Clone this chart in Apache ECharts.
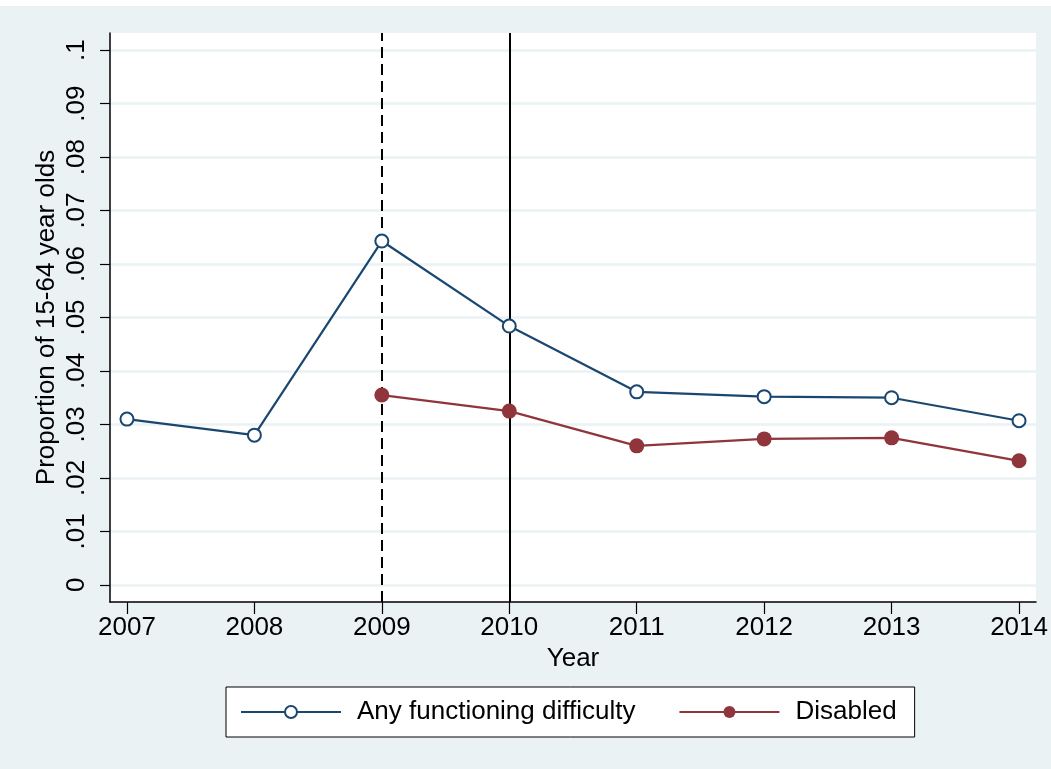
<!DOCTYPE html>
<html>
<head>
<meta charset="utf-8">
<script src="https://cdn.jsdelivr.net/npm/echarts@6/dist/echarts.min.js"></script>
<style>
html,body{margin:0;padding:0;background:#ffffff;}
#chart{position:absolute;left:0;top:6px;width:1051px;height:763px;background:#EAF2F3;}
</style>
</head>
<body>
<div id="chart"></div>
<script>
const years = [2007, 2008, 2009, 2010, 2011, 2012, 2013, 2014];
const anyDifficulty = [0.0310, 0.0280, 0.0643, 0.0484, 0.0361, 0.0352, 0.0350, 0.0307];
const disabled = [null, null, 0.0355, 0.0325, 0.0260, 0.0273, 0.0275, 0.0232];
const yTicks = [0, 0.01, 0.02, 0.03, 0.04, 0.05, 0.06, 0.07, 0.08, 0.09, 0.1];
const yTickLabels = ['0', '.01', '.02', '.03', '.04', '.05', '.06', '.07', '.08', '.09', '.1'];
const markYears = [2009, 2010];
const seriesNames = ['Any functioning difficulty', 'Disabled'];

const chart = echarts.init(document.getElementById('chart'));
const font = 'Liberation Sans, Arial, sans-serif';
const pair = (arr) => years.map((y, i) => arr[i] == null ? null : [y, arr[i]]).filter(d => d);

chart.setOption({
  animation: false,
  textStyle: { fontFamily: font },
  grid: {
    left: 110, right: 15, top: 27, bottom: 167,
    show: true, backgroundColor: '#ffffff', borderWidth: 0
  },
  legend: {
    left: 226, top: 681,
    data: seriesNames,
    backgroundColor: '#ffffff',
    borderColor: '#000000', borderWidth: 1,
    padding: [12, 18, 12, 14],
    itemWidth: 100, itemHeight: 15, itemGap: 43,
    textStyle: { fontSize: 26, color: '#000', fontFamily: font, padding: [0, 0, 0, 11] }
  },
  xAxis: {
    type: 'value',
    min: 2006.867, max: 2014.133,
    name: 'Year', nameLocation: 'middle', nameGap: 42,
    nameTextStyle: { fontSize: 26, color: '#000', fontFamily: font },
    axisLine: { show: true, onZero: false, lineStyle: { color: '#000', width: 1.5 } },
    axisTick: { show: true, length: 12, customValues: years, lineStyle: { color: '#000', width: 1.2 } },
    axisLabel: { customValues: years, fontSize: 26, color: '#000', margin: 13, formatter: v => String(v) },
    splitLine: { show: false }
  },
  yAxis: {
    type: 'value',
    min: -0.0032, max: 0.1032,
    name: 'Proportion of 15-64 year olds', nameLocation: 'middle', nameGap: 50, nameRotate: 90,
    nameMoveOverlap: false,
    nameTextStyle: { fontSize: 26, color: '#000', fontFamily: font },
    axisLine: { show: true, onZero: false, lineStyle: { color: '#000', width: 1.5 } },
    axisTick: { show: true, length: 10, customValues: yTicks, lineStyle: { color: '#000', width: 1.2 } },
    axisLabel: {
      customValues: yTicks, rotate: 90, fontSize: 26, color: '#000', margin: 20,
      formatter: v => { const i = yTicks.findIndex(t => Math.abs(t - v) < 1e-9); return i >= 0 ? yTickLabels[i] : ''; }
    },
    splitLine: { show: true, lineStyle: { color: '#EAF2F3', width: 2.5 } }
  },
  series: [
    {
      name: seriesNames[0], type: 'line',
      data: pair(anyDifficulty),
      color: '#1a476f',
      lineStyle: { color: '#1a476f', width: 2.2 },
      symbol: 'emptyCircle', symbolSize: 13,
      itemStyle: { color: '#1a476f', borderColor: '#1a476f', borderWidth: 2.4 },
      z: 5,
      markLine: {
        silent: true, symbol: 'none', label: { show: false },
        data: [
          { xAxis: markYears[0], lineStyle: { color: '#000', width: 2, type: [11, 6] } },
          { xAxis: markYears[1], lineStyle: { color: '#000', width: 2, type: 'solid' } }
        ]
      }
    },
    {
      name: seriesNames[1], type: 'line',
      data: pair(disabled),
      color: '#90353b',
      lineStyle: { color: '#90353b', width: 2.2 },
      symbol: 'circle', symbolSize: 15,
      itemStyle: { color: '#90353b' },
      z: 5
    }
  ]
});
</script>
</body>
</html>
